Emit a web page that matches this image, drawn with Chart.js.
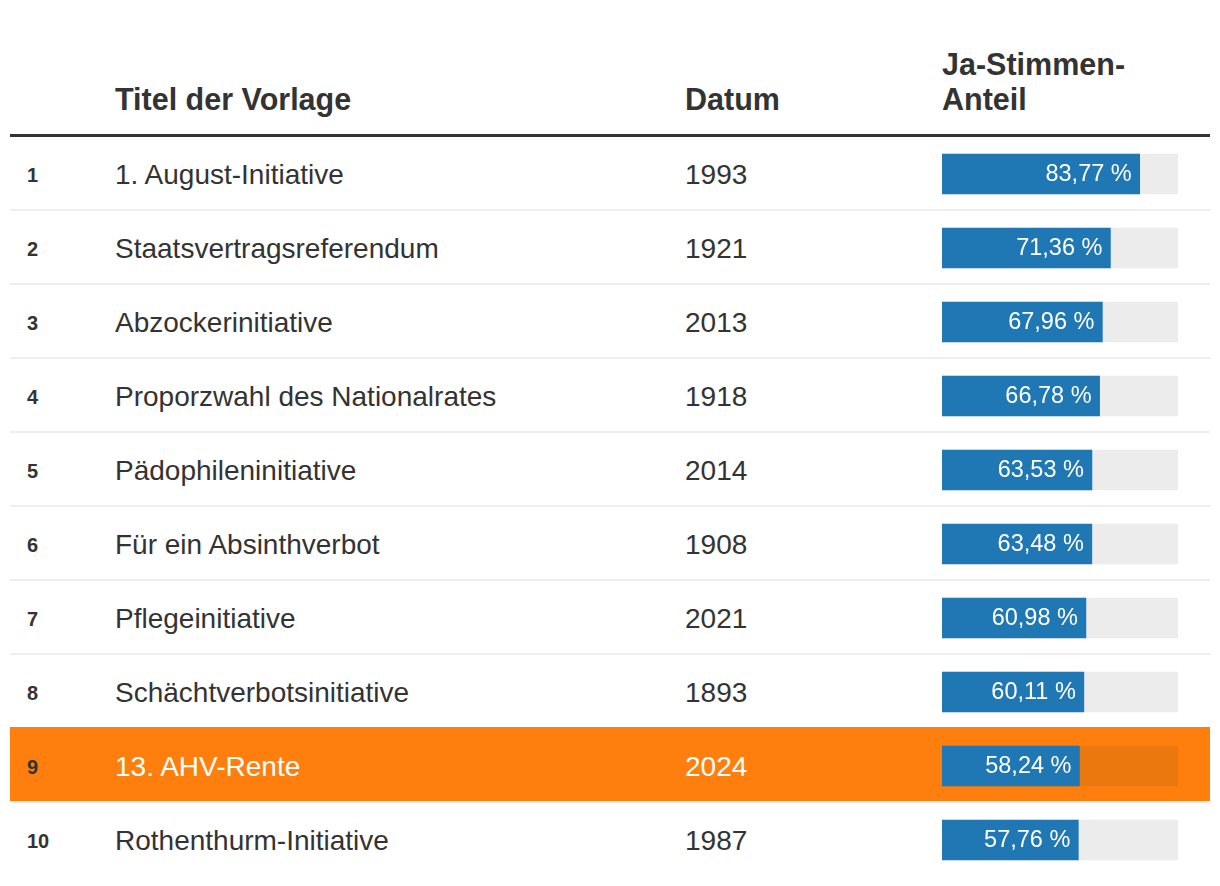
<!DOCTYPE html>
<html lang="de">
<head>
<meta charset="utf-8">
<title>Ja-Stimmen-Anteil</title>
<script src="https://cdn.jsdelivr.net/npm/chart.js@4.4.1/dist/chart.umd.min.js"></script>
<style>
    body { margin: 0; background: #fff; font-family: "Liberation Sans", Arial, Helvetica, sans-serif; color: #333; }
    #wrap { position: relative; width: 1220px; height: 886px; overflow: hidden; }
    .head { position: absolute; left: 10px; top: 0; width: 1200px; height: 134px; border-bottom: 3px solid #333; }
    .head div { position: absolute; bottom: 17px; font-weight: bold; font-size: 30.5px; line-height: 35px; }
    .row { position: absolute; left: 10px; width: 1200px; height: 72px; border-bottom: 2px solid #eee; }
    .row.last { border-bottom-color: transparent; }
    .row div { position: absolute; top: 0; white-space: nowrap; }
    .row .rank { left: 17px; font-weight: bold; font-size: 20px; line-height: 76px; }
    .row .title { left: 105px; font-size: 28px; line-height: 75px; }
    .row .year { left: 675px; font-size: 28px; line-height: 75px; }
    .row.hl { background: #ff7f0e; color: #fff; box-shadow: 0 -2px 0 #ff7f0e; }
    .row.hl .rank { color: #333; }
    #chartBox { position: absolute; left: 942px; top: 137px; width: 236px; height: 740px; }
</style>
</head>
<body>
<div id="wrap">
    <div class="head">
        <div style="left:105px">Titel der Vorlage</div>
        <div style="left:675px">Datum</div>
        <div style="left:932px">Ja-Stimmen-<br>Anteil</div>
    </div>
    <div id="rows"></div>
    <div id="chartBox"><canvas id="shareChart"></canvas></div>
</div>
<script>
// Table data
const ranks = [1, 2, 3, 4, 5, 6, 7, 8, 9, 10];
const titles = [
    '1. August-Initiative',
    'Staatsvertragsreferendum',
    'Abzockerinitiative',
    'Proporzwahl des Nationalrates',
    'Pädophileninitiative',
    'Für ein Absinthverbot',
    'Pflegeinitiative',
    'Schächtverbotsinitiative',
    '13. AHV-Rente',
    'Rothenthurm-Initiative'
];
const years = [1993, 1921, 2013, 1918, 2014, 1908, 2021, 1893, 2024, 1987];
const shares = [83.77, 71.36, 67.96, 66.78, 63.53, 63.48, 60.98, 60.11, 58.24, 57.76];
const highlightRow = 8;
const scaleMax = 100;

// Rows (text columns)
const rowsEl = document.getElementById('rows');
const rowTop = 137, rowPitch = 74;
titles.forEach((title, i) => {
    const row = document.createElement('div');
    row.className = 'row' + (i === highlightRow ? ' hl' : '') + (i === titles.length - 1 ? ' last' : '');
    row.style.top = (rowTop + i * rowPitch) + 'px';
    row.innerHTML = '<div class="rank">' + ranks[i] + '</div>' +
        '<div class="title">' + title + '</div>' +
        '<div class="year">' + years[i] + '</div>';
    rowsEl.appendChild(row);
});

// Value labels inside the bars
const valueLabels = {
    id: 'valueLabels',
    afterDatasetsDraw(chart) {
        const ctx = chart.ctx;
        const meta = chart.getDatasetMeta(0);
        ctx.save();
        ctx.font = '23.5px "Liberation Sans", Arial, sans-serif';
        ctx.fillStyle = '#fff';
        ctx.textAlign = 'right';
        ctx.textBaseline = 'middle';
        meta.data.forEach((bar, i) => {
            const txt = shares[i].toFixed(2).replace('.', ',') + ' %';
            ctx.fillText(txt, bar.x - 8, bar.y + 1);
        });
        ctx.restore();
    }
};

// Bar column chart
const shareCtx = document.getElementById('shareChart').getContext('2d');
new Chart(shareCtx, {
    type: 'bar',
    data: {
        labels: titles,
        datasets: [{
            data: shares,
            backgroundColor: '#1f77b4',
            barThickness: 40,
            grouped: false,
            order: 1
        }, {
            data: shares.map(() => scaleMax),
            backgroundColor: shares.map((v, i) => i === highlightRow ? '#eb780e' : '#ececec'),
            barThickness: 40,
            grouped: false,
            order: 2
        }]
    },
    options: {
        indexAxis: 'y',
        responsive: true,
        maintainAspectRatio: false,
        animation: false,
        layout: { padding: 0 },
        scales: {
            x: { display: false, min: 0, max: scaleMax },
            y: { display: false }
        },
        plugins: {
            legend: { display: false },
            tooltip: { enabled: false }
        }
    },
    plugins: [valueLabels]
});
</script>
</body>
</html>
